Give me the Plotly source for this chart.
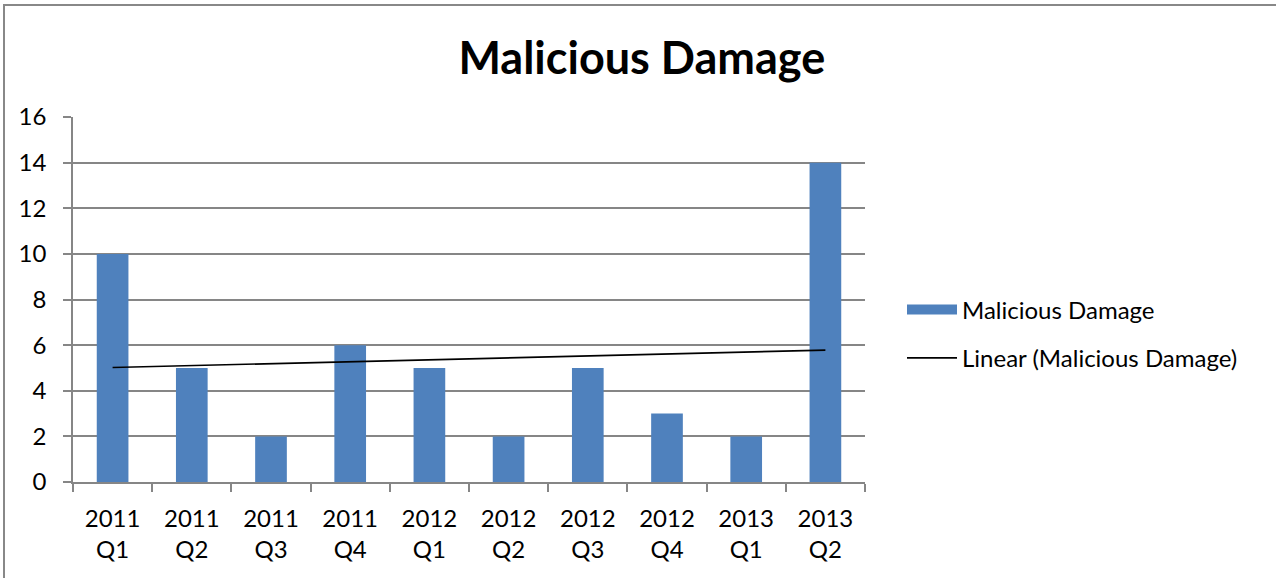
import numpy as np
import plotly.graph_objects as go

categories = ["2011<br>Q1", "2011<br>Q2", "2011<br>Q3", "2011<br>Q4", "2012<br>Q1",
              "2012<br>Q2", "2012<br>Q3", "2012<br>Q4", "2013<br>Q1", "2013<br>Q2"]
values = [10, 5, 2, 6, 5, 2, 5, 3, 2, 14]
y_ticks = [0, 2, 4, 6, 8, 10, 12, 14, 16]

# linear trendline (least squares), as Excel computes it
xi = np.arange(1, len(values) + 1)
slope, intercept = np.polyfit(xi, values, 1)
trend = slope * xi + intercept

FONT = "Lato"
GRID = "#868686"
BAR = "#4F81BD"
FS = 24

fig = go.Figure()
fig.add_trace(go.Bar(x=categories, y=values, name="Malicious Damage",
                     marker=dict(color=BAR, line=dict(width=0)),
                     showlegend=False, legendgroup="a"))
# legend entry for the bars (wide rectangle swatch, as in Excel)
fig.add_trace(go.Scatter(x=[None], y=[None], mode="lines", name="Malicious Damage",
                         line=dict(color=BAR, width=12), legendgroup="a"))
fig.add_trace(go.Scatter(x=categories, y=trend, mode="lines",
                         name="Linear (Malicious Damage)", legendgroup="b",
                         line=dict(color="black", width=1.7)))

W, H = 1276, 578
L, R, T, B = 73, 411, 117, 96
pw, ph = W - L - R, H - T - B

fig.update_layout(
    width=W, height=H,
    margin=dict(l=L, r=R, t=T, b=B),
    paper_bgcolor="white", plot_bgcolor="white",
    bargap=0.6,
    font=dict(family=FONT, size=FS, color="black"),
    title=dict(text="<b>Malicious Damage</b>", x=0.503, xanchor="center",
               y=1 - 58 / H, yanchor="middle",
               font=dict(family=FONT, size=45, color="black")),
    legend=dict(x=1 + (902 - 865) / pw, xanchor="left",
                y=(H - B - 334) / ph, yanchor="middle",
                font=dict(family=FONT, size=FS), itemwidth=50,
                tracegroupgap=14, bgcolor="rgba(0,0,0,0)"),
    showlegend=True,
    xaxis=dict(showline=True, linecolor=GRID, linewidth=1.5, tickson="boundaries",
               ticks="outside", ticklen=8, tickcolor=GRID, tickwidth=1.5,
               showgrid=False, ticklabelstandoff=14,
               tickfont=dict(family=FONT, size=FS)),
    yaxis=dict(range=[0, 16], tickvals=y_ticks, showline=True, linecolor=GRID,
               linewidth=1.5, ticks="outside", ticklen=8, tickcolor=GRID,
               tickwidth=1.5, showgrid=True, gridcolor=GRID, gridwidth=1.5,
               zeroline=False, ticklabelstandoff=12,
               tickfont=dict(family=FONT, size=FS)),
    shapes=[dict(type="rect", xref="paper", yref="paper",
                 x0=(4 - L) / pw, x1=2, y0=-1, y1=(H - B - 5) / ph,
                 line=dict(color="#888888", width=2), layer="below")],
)

fig.write_html("out.html", config={"displayModeBar": False},
               post_script="document.body.style.margin='0px';document.body.style.overflow='hidden';")
